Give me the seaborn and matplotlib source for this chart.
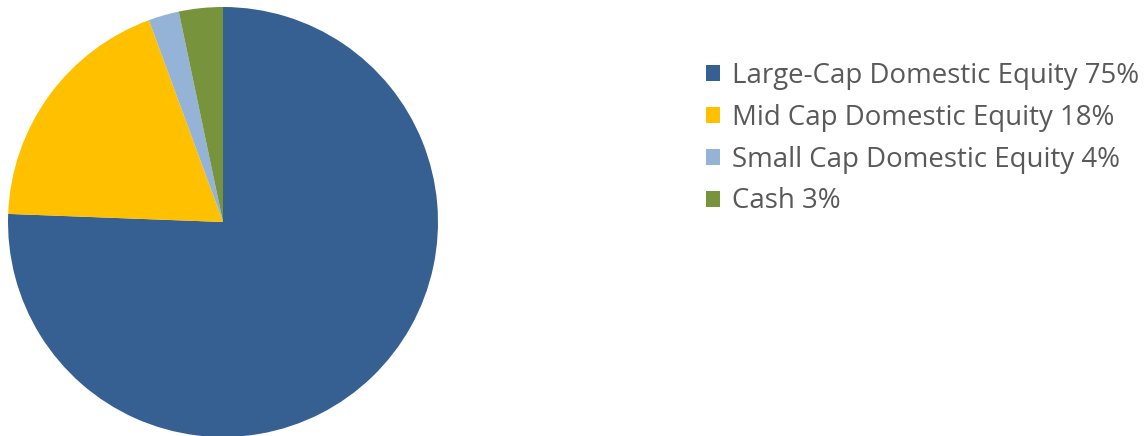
import matplotlib
matplotlib.use("Agg")
import matplotlib.pyplot as plt
import seaborn as sns
from matplotlib.patches import Patch

categories = ["Large-Cap Domestic Equity", "Mid Cap Domestic Equity",
              "Small Cap Domestic Equity", "Cash"]
label_pcts = ["75%", "18%", "4%", "3%"]
slice_values = [75.6, 18.8, 2.3, 3.3]
colors = ["#366092", "#FFC000", "#95B3D7", "#77933C"]

sns.set_theme(style="white")
plt.rcParams["font.family"] = ["Open Sans", "DejaVu Sans"]

W, H, DPI = 1148, 436, 100
fig = plt.figure(figsize=(W / DPI, H / DPI), dpi=DPI)

cx, cy, r = 223, 222, 215
ax = fig.add_axes([(cx - r) / W, (H - cy - r) / H, 2 * r / W, 2 * r / H])
ax.pie(slice_values, colors=colors, startangle=90, counterclock=False,
       radius=1.0, wedgeprops=dict(linewidth=0))
ax.set_xlim(-1, 1)
ax.set_ylim(-1, 1)
ax.set_aspect("equal")
ax.axis("off")

labels = [f"{c} {p}" for c, p in zip(categories, label_pcts)]
handles = [Patch(facecolor=c, edgecolor="none") for c in colors]

fs = 19.9
leg = fig.legend(handles, labels, loc="upper left",
                 bbox_to_anchor=(706 / W, 1 - 62 / H),
                 frameon=False, fontsize=fs, handlelength=0.52, handleheight=0.52,
                 handletextpad=0.42, labelspacing=0.50, borderpad=0,
                 borderaxespad=0, labelcolor="#595959")

fig.savefig("out.png", dpi=DPI, facecolor="white")
